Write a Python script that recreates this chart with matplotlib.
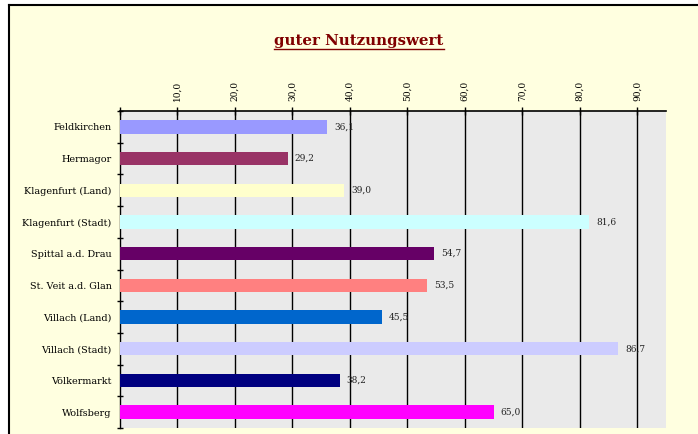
import matplotlib
matplotlib.use('Agg')
from matplotlib import pyplot as plt
from matplotlib.lines import Line2D
import numpy as np

districts = ['Feldkirchen', 'Hermagor', 'Klagenfurt (Land)', 'Klagenfurt (Stadt)',
             'Spittal a.d. Drau', 'St. Veit a.d. Glan', 'Villach (Land)',
             'Villach (Stadt)', 'Völkermarkt', 'Wolfsberg']
values = [36.1, 29.2, 39.0, 81.6, 54.7, 53.5, 45.5, 86.7, 38.2, 65.0]
colors = ['#9999FF', '#993366', '#FFFFCC', '#CCFFFF', '#660066',
          '#FF8080', '#0066CC', '#CCCCFF', '#000080', '#FF00FF']
ticks = [0, 10, 20, 30, 40, 50, 60, 70, 80, 90]

plt.rcParams['font.family'] = ['DejaVu Serif']

W, H = 698, 434
fig = plt.figure(figsize=(W / 100, H / 100), dpi=100)
fig.patch.set_facecolor('white')

# yellow chart area with black top/left border
fig.patches.append(plt.Rectangle((9 / W, 0), 1, 1 - 5 / H, transform=fig.transFigure,
                                 facecolor='#FFFFE0', edgecolor='none', zorder=-5))
fig.add_artist(Line2D([9 / W, 1], [1 - 5 / H, 1 - 5 / H], color='black', lw=1.5))
fig.add_artist(Line2D([9 / W, 9 / W], [0, 1 - 5 / H], color='black', lw=1.5))

ax = fig.add_axes([120 / W, 1 - 428 / H, (666 - 120) / W, (428 - 111) / H])
ax.set_facecolor('#EAEAEA')

y = np.arange(len(districts))
ax.barh(y, values, height=0.42, color=colors, zorder=3)
for yi, v in zip(y, values):
    ax.text(v + 1.2, yi, '{:.1f}'.format(v).replace('.', ','), va='center', ha='left',
            fontsize=6.5, color='#222222', zorder=4)

ax.set_xlim(0, 95)
ax.set_ylim(len(districts) - 0.5, -0.5)

for t in ticks[1:]:
    ax.axvline(t, color='black', lw=1, zorder=2)

ax.xaxis.tick_top()
ax.set_xticks(ticks)
ax.set_xticklabels(['' if t == 0 else '{:.1f}'.format(t).replace('.', ',') for t in ticks],
                   rotation=90, fontsize=6.5)
ax.tick_params(axis='x', direction='inout', length=6, width=1, pad=4)

ax.set_yticks(y)
ax.set_yticklabels(districts, fontsize=6.9)
ax.tick_params(axis='y', which='major', length=0, pad=6)
ax.set_yticks(np.arange(-0.5, len(districts), 1), minor=True)
ax.tick_params(axis='y', which='minor', direction='inout', length=5, width=1)

for s in ['right', 'bottom']:
    ax.spines[s].set_visible(False)
ax.spines['top'].set_linewidth(1.2)
ax.spines['left'].set_linewidth(1)

title = fig.text(359 / W, 1 - 41 / H, 'guter Nutzungswert', ha='center', va='center',
                 fontsize=10.8, fontweight='bold', color='#800000')
fig.canvas.draw()
bb = title.get_window_extent().transformed(fig.transFigure.inverted())
fig.add_artist(Line2D([bb.x0, bb.x1], [bb.y0 - 1 / H, bb.y0 - 1 / H], color='#800000', lw=1))

fig.savefig('out.png', dpi=100)
